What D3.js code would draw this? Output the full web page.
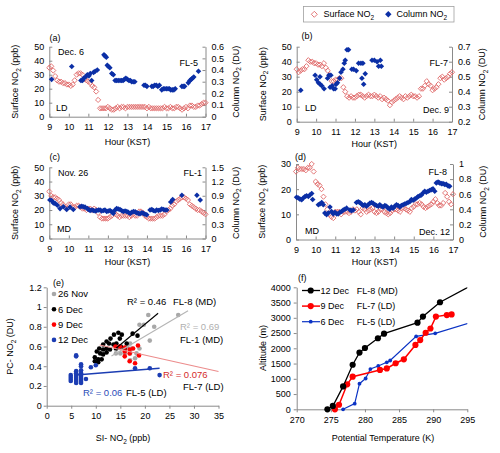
<!DOCTYPE html>
<html><head><meta charset="utf-8">
<script src="https://cdn.jsdelivr.net/npm/d3@7"></script>
<style>
body{margin:0;background:#fff}
svg{display:block}
text{font-family:'Liberation Sans',Arial,sans-serif;font-size:9px;fill:#000}
</style>
</head><body>
<svg id="c" width="500" height="453"></svg>
<script>
// ---------- DATA ----------
const hourTicks = [9,10,11,12,13,14,15,16,17];
const hours = d3.range(81).map(i => 9 + i / 10); // surface sampling times (6-min)

const surfA = [35,36,33,29,26,25,25,24,24,23, 23,22,23,26,30,31,31,30,27,26, 25,24,22,21,18,12,6,6,6,6,
  7,6,5,5,6,7,6,7,7,6, 7,7,7,7,7,7,7,7,7,7, 6,7,6,6,6,6,6,6,6,7, 6,6,7,6,6,7,7,6,5,6, 7,6,8,8,7,7,8,8,9,10, 10];
const surfB = [35,33,34,35,35,37,41,40,40,39, 39,38,38,37,39,36,34,31,27,27, 28,28,29,29,23,20,17,16,17,16,
  16,17,18,18,17,16,17,18,17,17, 18,17,16,17,15,16,15,14,11,13, 14,15,16,17,16,15,17,16,17,18,
  17,17,16,17,22,22,24,27,25,24, 21,22,23,25,29,30,28,29,30,32, 33];
const surfC = [33,30,29,29,28,27,25,24,22,21, 24,24,22,22,23,23,22,21,21,20, 21,21,20,21,20,18,15,14,14,14,
  14,15,16,18,17,16,15,16,16,16, 16,15,16,17,16,16,19,19,18,16, 15,14,14,14,14,15,16,16,16,17,
  19,20,21,23,24,26,27,28,29,29, 28,27,24,23,22,21,20,20,19,18, 17];
const surfD = [27,28.5,28,28,28,27.5,28.5,28.5,30,27, 23,22,21.5,20,17,14,12,10,9,8.5, 11,11,11,10,11,11,11,10.5,11,12,
  11.5,12,11,10,12.5,12,11,11.5,12,12.5, 11,10.5,11,12,12,11,10.5,10,10.5,11.5, 12,12,11.5,11,12.5,12.5,12,11.5,11,12.5,
  13,14,14,14.5,14,13,12.5,13,13.5,14, 15,16,14.5,13.5,13.5,14.5,18.5,17,15,14, 18];

const colA = [[9.12,0.32],[10.15,0.43],[10.62,0.31],[10.7,0.31],[10.76,0.33],[10.85,0.34],[10.95,0.36],[11.03,0.35],[11.1,0.37],[11.17,0.31],[11.27,0.38],[11.35,0.39],[11.46,0.40],
  [11.8,0.53],[11.86,0.52],[11.92,0.51],[11.97,0.44],[12.03,0.43],[12.1,0.42],[12.2,0.37],[12.28,0.36],
  [12.37,0.31],[12.45,0.31],[12.53,0.31],[12.62,0.31],[12.7,0.31],[12.78,0.31],[12.85,0.32],[12.92,0.33],[13.0,0.32],[13.08,0.31],[13.15,0.31],[13.22,0.30],[13.3,0.30],[13.38,0.30],
  [13.85,0.27],[13.92,0.27],[14.0,0.26],[14.25,0.26],[14.32,0.26],[14.4,0.27],[14.48,0.27],[14.56,0.26],[14.64,0.27],
  [14.76,0.23],[14.84,0.24],[14.92,0.24],[15.0,0.24],[15.08,0.24],[15.15,0.24],[15.22,0.23],[15.3,0.23],[15.38,0.23],[15.45,0.24],
  [15.79,0.26],[15.86,0.26],[15.93,0.26],[16.12,0.29],[16.2,0.31],[16.27,0.32],[16.33,0.33],[16.4,0.34],[16.64,0.39]];
const colB = [[9.21,0.41],[9.95,0.51],[10.03,0.48],[10.12,0.46],[10.2,0.50],[10.21,0.45],[10.29,0.44],[10.41,0.42],[10.59,0.49],[10.66,0.51],[10.76,0.51],
  [10.72,0.43],[10.83,0.44],[10.9,0.42],[10.98,0.42],[11.03,0.45],[11.1,0.46],[11.21,0.49],[11.28,0.53],[11.38,0.55],[11.45,0.59],[11.5,0.61],
  [11.59,0.68],[11.67,0.68],[11.84,0.55],[11.93,0.55],[12.07,0.54],[12.19,0.59],[12.31,0.59],[12.41,0.59],[12.36,0.49],[12.45,0.45],[12.53,0.52],
  [12.88,0.61],[13.0,0.61],[13.14,0.60],[13.22,0.57],[13.31,0.61],[13.36,0.57]];
const colC = [[9.03,0.81],[9.12,0.80],[9.21,0.75],[9.29,0.74],[9.41,0.70],[9.55,0.63],[9.72,0.67],[9.89,0.61],[10.06,0.66],[10.23,0.61],
  [10.57,0.67],[10.66,0.68],[10.74,0.67],[10.83,0.66],[10.95,0.63],[11.02,0.61],[11.09,0.59],[11.18,0.60],[11.26,0.59],[11.35,0.58],[11.43,0.59],
  [11.52,0.60],[11.6,0.60],[11.68,0.58],[11.77,0.59],[11.85,0.60],[11.94,0.57],[12.02,0.58],[12.11,0.59],[12.2,0.56],[12.28,0.53],[12.37,0.60],
  [12.45,0.63],[12.53,0.62],[12.62,0.61],[12.7,0.59],[12.79,0.57],[12.88,0.58],[12.97,0.57],[13.05,0.55],[13.14,0.53],[13.22,0.55],[13.31,0.57],
  [13.4,0.56],[13.48,0.54],[13.57,0.53],[13.65,0.52],[13.74,0.54],[13.82,0.53],[13.9,0.51],[13.99,0.50],[14.16,0.60],[14.25,0.61],[14.33,0.59],
  [14.42,0.58],[14.5,0.60],[14.59,0.59],[14.68,0.60],[14.76,0.62],[14.85,0.61],[14.93,0.60],[15.02,0.60],[15.22,0.77],[15.32,0.82],[15.79,0.91],
  [16.56,0.91],[16.73,0.81]];
const colD = [[9.03,0.56],[9.12,0.55],[9.2,0.535],[9.29,0.527],[9.37,0.55],[9.46,0.57],[9.54,0.58],[9.63,0.57],[9.71,0.59],[9.8,0.61],[9.85,0.53],
  [10.14,0.46],[10.22,0.47],[10.31,0.49],[10.39,0.46],[10.47,0.35],[10.56,0.33],[10.64,0.35],[10.73,0.43],[10.81,0.37],[10.9,0.34],[10.98,0.36],
  [11.07,0.34],[11.15,0.34],[11.24,0.36],[11.32,0.37],[11.41,0.39],[11.49,0.40],[11.58,0.415],[11.75,0.39],[11.83,0.38],[11.92,0.39],
  [12.08,0.49],[12.17,0.50],[12.25,0.49],[12.34,0.47],[12.42,0.45],[12.51,0.46],[12.59,0.44],[12.68,0.46],[12.76,0.48],[12.85,0.49],[12.93,0.48],
  [13.02,0.46],[13.1,0.45],[13.19,0.44],[13.27,0.46],[13.36,0.44],[13.44,0.43],[13.53,0.45],[13.61,0.44],[13.69,0.415],[13.78,0.40],[13.86,0.43],
  [13.95,0.415],[14.03,0.44],[14.12,0.46],[14.2,0.45],[14.29,0.43],[14.37,0.45],[14.46,0.46],[14.54,0.47],[14.63,0.48],[14.71,0.49],[14.8,0.50],
  [14.88,0.53],[14.97,0.52],[15.05,0.535],[15.14,0.55],[15.22,0.57],[15.31,0.58],[15.39,0.59],[15.47,0.615],[15.56,0.64],[15.64,0.625],[15.73,0.64],
  [15.81,0.65],[15.9,0.66],[15.98,0.67],[16.07,0.64],[16.15,0.75],[16.24,0.76],[16.32,0.75],[16.41,0.74],[16.49,0.74],[16.58,0.73],[16.66,0.73],
  [16.75,0.71],[16.83,0.705]];

// panel (e): [SI-NO2 ppb, PC-NO2 DU]
const nov26 = [[20.7,0.92],[26.8,0.92],[18.9,0.82],[19.8,0.82],[21.9,0.80],[21.0,0.66],[17.0,0.63],[16.4,0.60],[17.3,0.58],[18.9,0.58],[18.3,0.53],
  [17.0,0.53],[15.9,0.53],[18.0,0.48],[17.0,0.46],[14.1,0.53],[15.0,0.53]];
const dec6 = [[14.6,0.74],[15.3,0.72],[13.7,0.72],[13.0,0.68],[12.2,0.65],[12.7,0.63],[11.5,0.62],[13.6,0.62],[14.2,0.63],[10.7,0.58],[11.5,0.57],
  [12.2,0.58],[10.2,0.55],[10.9,0.53],[11.5,0.52],[9.8,0.49],[10.5,0.47],[11.2,0.47],[9.8,0.45],[10.5,0.44],[12.2,0.54],[12.9,0.57],[14.9,0.68],
  [16.3,0.63],[15.9,0.58],[15.1,0.60],[14.2,0.58],[17.5,0.73],[18.5,0.71]];
const dec9 = [[14.0,0.60],[14.9,0.60],[15.9,0.59],[16.9,0.57],[17.6,0.58],[18.6,0.61],[15.9,0.55],[16.9,0.53],[15.9,0.50],[16.9,0.45],[18.0,0.43],[18.8,0.51]];
const dec12 = [[4.9,0.31],[4.9,0.29],[4.9,0.27],[4.9,0.25],[6,0.51],[6,0.50],[6,0.35],[6,0.33],[6,0.31],[6,0.29],[6,0.27],[6,0.25],[6,0.23],
  [7,0.42],[7,0.40],[7,0.36],[7,0.33],[7,0.31],[7,0.29],[7,0.27],[7,0.25],[7,0.23],[8,0.27],[9,0.39],[10,0.41],[18,0.38],[21,0.38],[23,0.31]];
const fitDec6 = [[13.7,0.565],[22.7,0.937]];
const fitNov26 = [[13.2,0.504],[28.8,0.963]];
const fitDec9 = [[10.8,0.616],[35,0.347]];
const fitDec12 = [[6,0.31],[23,0.38]];
const eXTicks = [0,5,10,15,20,25,30,35];
const eYTicks = [0,0.2,0.4,0.6,0.8,1,1.2];

// panel (f): potential temperature (K), altitude (m)
const fTheta12 = [274.5,275.3,276.8,278.2,279.2,280.0,281.9,282.8,287.7,288.5,291.0,296.5];
const fAlt12   = [0,110,750,1460,1860,2010,2330,2480,2840,3040,3510,4170];
const fTheta9  = [275.6,276.2,277.4,278.2,282.2,283.2,284.5,285.7,287.4,288.1,288.9,289.6,290.4,292.0,292.7];
const fAlt9    = [0,150,820,1070,1290,1340,1510,1640,2110,2270,2510,2650,3040,3090,3110];
const fTheta6  = [276.8,278.5,279.2,280.1,280.8,281.95,283.2,283.7,287.5,290.3,297];
const fAlt6    = [0,185,840,1010,1320,1420,1540,1600,2390,2490,2950];
const fXTicks = [270,275,280,285,290,295];
const fYTicks = [0,500,1000,1500,2000,2500,3000,3500,4000];

// ---------- DRAW ----------
const svg = d3.select('#c');
const AX = '#8a8a8a';
const RED = '#e06a6a', BLUE = '#0b2fa6';
const diamond = r => `M0,${-r}L${r},0L0,${r}L${-r},0Z`;
const fmt = d => String(+(+d).toFixed(1));

function styleAxis(sel){
  sel.attr('font-family', null).attr('font-size', null);
  sel.selectAll('.domain').attr('stroke', AX);
  sel.selectAll('.tick line').attr('stroke', AX);
}
function label(g, x, y, parts, opt = {}){
  const t = g.append('text').attr('x', x).attr('y', y).attr('dy', '0.35em')
    .attr('text-anchor', opt.anchor || 'start');
  if (opt.size) t.style('font-size', opt.size);
  if (opt.color) t.style('fill', opt.color);
  if (opt.rotate) t.attr('transform', `rotate(-90,${x},${y})`);
  if (typeof parts === 'string') { t.text(parts); return t; }
  let shifted = false;
  parts.forEach(p => {
    const ts = t.append('tspan').text(p[0]);
    if (p[1]) { ts.style('font-size', '6.5px').attr('dy', 2.5); shifted = true; }
    else if (shifted) { ts.attr('dy', -2.5); shifted = false; }
  });
  return t;
}
const SURF = [['Surface NO'],['2',1],[' (ppb)']];
const COLT = [['Column NO'],['2',1],[' (DU)']];

function tsPanel(p){
  const g = svg.append('g');
  const x = d3.scaleLinear().domain([9,17]).range([p.x0, p.x1]);
  const yL = d3.scaleLinear().domain(p.ld).range([p.yb, p.yt]);
  const yR = d3.scaleLinear().domain(p.rd).range([p.yb, p.yt]);
  g.append('g').attr('transform', `translate(0,${p.yb})`)
    .call(d3.axisBottom(x).tickValues(hourTicks).tickSize(-3).tickSizeOuter(0).tickPadding(7)).call(styleAxis);
  g.append('g').attr('transform', `translate(${p.x0},0)`)
    .call(d3.axisLeft(yL).tickValues(p.lt).tickFormat(fmt).tickSize(-3).tickSizeOuter(0).tickPadding(5)).call(styleAxis);
  g.append('g').attr('transform', `translate(${p.x1},0)`)
    .call(d3.axisRight(yR).tickValues(p.rt).tickFormat(fmt).tickSize(-3).tickSizeOuter(0).tickPadding(6)).call(styleAxis);
  g.append('g').selectAll('path')
    .data(hours.map((h,i) => [h, p.surf[i]]).filter(d => d[1] != null))
    .join('path').attr('d', diamond(2.6))
    .attr('transform', d => `translate(${x(d[0])},${yL(d[1])})`)
    .attr('fill', 'none').attr('stroke', RED).attr('stroke-width', 0.9);
  g.append('g').selectAll('path').data(p.col).join('path').attr('d', diamond(2.8))
    .attr('transform', d => `translate(${x(d[0])},${yR(d[1])})`).attr('fill', BLUE);
  const ym = (p.yb + p.yt) / 2;
  label(g, p.x0 - 34, ym, SURF, {anchor:'middle', rotate:true});
  label(g, p.x1 + 30, ym, COLT, {anchor:'middle', rotate:true});
  label(g, (p.x0 + p.x1) / 2, p.ht, 'Hour (KST)', {anchor:'middle'});
  p.texts.forEach(t => label(g, t[1], t[2], t[0], {anchor: t[3] || 'start'}));
}

tsPanel({x0:49.3, x1:205.5, yb:116.7, yt:46.7, ld:[0,50], rd:[0,0.6], ht:141.7,
  lt:[0,10,20,30,40,50], rt:[0,0.1,0.2,0.3,0.4,0.5,0.6], surf:surfA, col:colA,
  texts:[['(a)',49.5,37.5],['Dec. 6',58,51.7],['FL-5',198,62.7,'end'],['LD',56,108.3]]});
tsPanel({x0:296.7, x1:452, yb:121.7, yt:46.7, ld:[0,50], rd:[0.2,0.7], ht:143.5,
  lt:[0,10,20,30,40,50], rt:[0.2,0.3,0.4,0.5,0.6,0.7], surf:surfB, col:colB,
  texts:[['(b)',301.5,36],['FL-7',448,63.3,'end'],['LD',305,108.3],['Dec. 9',449,110,'end']]});
tsPanel({x0:49.3, x1:205.5, yb:238.5, yt:167.3, ld:[0,50], rd:[0,1.5], ht:262,
  lt:[0,10,20,30,40,50], rt:[0,0.3,0.6,0.9,1.2,1.5], surf:surfC, col:colC,
  texts:[['(c)',49.5,157.3],['Nov. 26',58,173],['FL-1',202,173,'end'],['MD',57,229]]});
tsPanel({x0:296, x1:453, yb:239.5, yt:164, ld:[0,30], rd:[0,1], ht:262,
  lt:[0,10,20,30], rt:[0,0.2,0.4,0.6,0.8,1], surf:surfD, col:colD,
  texts:[['(d)',295,157],['FL-8',447,172,'end'],['MD',305,231],['Dec. 12',450,231.7,'end']]});

// top legend
(function(){
  const g = svg.append('g');
  g.append('rect').attr('x', 303.5).attr('y', 6.5).attr('width', 150.5).attr('height', 15.5)
    .attr('fill', '#fff').attr('stroke', '#a0a0a0').attr('stroke-width', 0.8);
  g.append('path').attr('d', diamond(3)).attr('transform', 'translate(314.3,14.3)')
    .attr('fill', 'none').attr('stroke', RED).attr('stroke-width', 0.9);
  label(g, 323.5, 14, [['Surface NO'],['2',1]]);
  g.append('path').attr('d', diamond(3.2)).attr('transform', 'translate(388.3,14.3)').attr('fill', BLUE);
  label(g, 396.5, 14, [['Column NO'],['2',1]]);
})();

// panel (e)
(function(){
  const g = svg.append('g');
  const x = d3.scaleLinear().domain([0,35]).range([46.7, 218.5]);
  const y = d3.scaleLinear().domain([0,1.2]).range([405.7, 287.3]);
  g.append('g').attr('transform', 'translate(0,405.7)')
    .call(d3.axisBottom(x).tickValues(eXTicks).tickSize(3).tickSizeOuter(0).tickPadding(4)).call(styleAxis);
  g.append('g').attr('transform', 'translate(46.7,0)')
    .call(d3.axisLeft(y).tickValues(eYTicks).tickFormat(fmt).tickSize(3).tickSizeOuter(0).tickPadding(2)).call(styleAxis);
  const sets = [[nov26,'#a8a8a8'],[dec6,'#000'],[dec9,'#ff0000'],[dec12,'#1c3db3']];
  sets.forEach(s => g.append('g').selectAll('circle').data(s[0]).join('circle')
    .attr('cx', d => x(d[0])).attr('cy', d => y(d[1])).attr('r', 2.3).attr('fill', s[1]));
  const line = d3.line().x(d => x(d[0])).y(d => y(d[1]));
  [[fitDec6,'#000',1.1],[fitNov26,'#b5b5b5',1.1],[fitDec9,'#ec8c8c',1.1],[fitDec12,'#1c3db3',1.5]].forEach(f =>
    g.append('path').attr('d', line(f[0])).attr('fill', 'none').attr('stroke', f[1]).attr('stroke-width', f[2]));
  const leg = [['26 Nov','#a8a8a8'],['6 Dec','#000'],['9 Dec','#ff0000'],['12 Dec','#1c3db3']];
  leg.forEach((l,i) => {
    g.append('circle').attr('cx', 54).attr('cy', 294 + i*15.3).attr('r', 2.3).attr('fill', l[1]);
    label(g, 58, 294 + i*15.3, l[0], {size:'9.5px'});
  });
  label(g, 53, 283, '(e)');
  label(g, 127, 301.7, 'R² = 0.46', {size:'9.5px'});
  label(g, 173, 301.7, 'FL-8 (MD)', {size:'9.5px'});
  label(g, 180, 326.7, 'R² = 0.69', {size:'9.5px', color:'#b0b0b0'});
  label(g, 180, 340, 'FL-1 (MD)', {size:'9.5px'});
  label(g, 163, 375, 'R² = 0.076', {size:'9.5px', color:'#d42a2a'});
  label(g, 183, 386.5, 'FL-7 (LD)', {size:'9.5px'});
  label(g, 83, 392.7, 'R² = 0.06', {size:'9.5px', color:'#2a4cb8'});
  label(g, 126, 392.7, 'FL-5 (LD)', {size:'9.5px'});
  label(g, 10, 346.5, [['PC- NO'],['2',1],[' (DU)']], {anchor:'middle', rotate:true});
  label(g, 123, 438, [['SI- NO'],['2',1],[' (ppb)']], {anchor:'middle'});
})();

// panel (f)
(function(){
  const g = svg.append('g');
  const x = d3.scaleLinear().domain([270,295]).range([296.7, 467.3]);
  const y = d3.scaleLinear().domain([0,4000]).range([409.3, 287.3]);
  svg.append('defs').append('clipPath').attr('id', 'fclip').append('rect')
    .attr('x', 290).attr('y', 287.3).attr('width', 177.3).attr('height', 130);
  g.append('g').attr('transform', 'translate(0,409.3)')
    .call(d3.axisBottom(x).tickValues(fXTicks).tickSize(3).tickSizeOuter(0).tickPadding(4)).call(styleAxis);
  g.append('g').attr('transform', 'translate(296.7,0)')
    .call(d3.axisLeft(y).tickValues(fYTicks).tickFormat(d3.format('d')).tickSize(3).tickSizeOuter(0).tickPadding(3)).call(styleAxis);
  const series = [[fTheta6,fAlt6,'#0b33c4',1.2,1.9],[fTheta9,fAlt9,'#ff0000',1.5,3.1],[fTheta12,fAlt12,'#000',1.3,3.1]];
  const line = d3.line().x(d => x(d[0])).y(d => y(d[1]));
  const pg = g.append('g').attr('clip-path', 'url(#fclip)');
  series.forEach(s => {
    const pts = s[0].map((t,i) => [t, s[1][i]]);
    pg.append('path').attr('d', line(pts)).attr('fill', 'none').attr('stroke', s[2]).attr('stroke-width', s[3]);
    pg.append('g').selectAll('circle').data(pts).join('circle')
      .attr('cx', d => x(d[0])).attr('cy', d => y(d[1])).attr('r', s[4]).attr('fill', s[2]);
  });
  const leg = [['12 Dec','FL-8 (MD)','#000',1.3,3.1],['9 Dec','FL-7 (LD)','#ff0000',1.5,3.1],['6 Dec','FL-5 (LD)','#0b33c4',1.2,1.9]];
  leg.forEach((l,i) => {
    const yy = 290.5 + i*15.6;
    g.append('line').attr('x1', 302).attr('x2', 320).attr('y1', yy).attr('y2', yy).attr('stroke', l[2]).attr('stroke-width', l[3]);
    g.append('circle').attr('cx', 310.7).attr('cy', yy).attr('r', l[4]).attr('fill', l[2]);
    label(g, 320.5, yy, l[0]);
    label(g, 356.7, yy, l[1]);
  });
  label(g, 298, 278, '(f)');
  label(g, 263, 348, 'Altitude (m)', {anchor:'middle', rotate:true});
  label(g, 383, 438, 'Potential Temperature (K)', {anchor:'middle'});
})();
</script>
</body></html>
